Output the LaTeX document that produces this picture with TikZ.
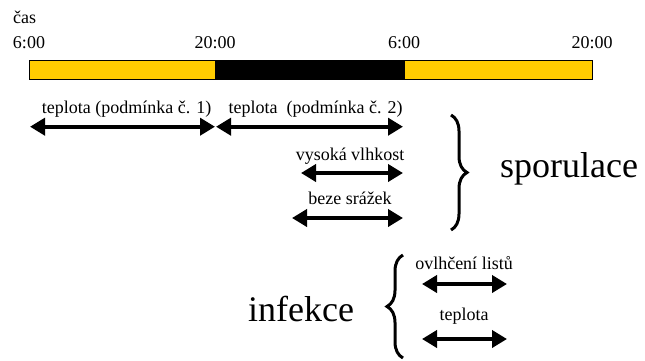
\documentclass[tikz,border=0pt]{standalone}
\usepackage{fontspec}
\setmainfont{Liberation Serif}
\usetikzlibrary{arrows.meta,decorations.pathreplacing}
\definecolor{den}{HTML}{FFCC00}
\tikzset{
  sipka/.style={line width=4pt,{Triangle[length=15pt,width=17pt]}-{Triangle[length=15pt,width=17pt]}},
  popis/.style={font=\fontsize{18}{20}\selectfont,anchor=base,inner sep=0pt},
  nadpis/.style={font=\fontsize{36}{40}\selectfont,anchor=base west,inner sep=0pt},
  zavorka/.style={line width=3pt,decorate,decoration={brace,amplitude=16pt}}
}
\begin{document}
\begin{tikzpicture}[x=1pt,y=-1pt]
            \useasboundingbox (0,0) rectangle (645,360);
            % casova osa
            \node[popis,anchor=base west] (cas) at (13,23) {čas};
            \node[popis] (t1) at (29,48) {6:00};
            \node[popis] (t2) at (215,48) {20:00};
            \node[popis] (t3) at (404,48) {6:00};
            \node[popis] (t4) at (592,48) {20:00};
            \draw[fill=den,line width=0.8pt] (29,60.7) rectangle (215,79.3);
            \draw[fill=black,line width=0.8pt] (215,60.7) rectangle (404,79.3);
            \draw[fill=den,line width=0.8pt] (404,60.7) rectangle (592,79.3);
            % sporulace
            \node[popis] (p1) at (126.5,113) {teplota (podmínka č. 1)};
            \node[popis] (p2) at (315.5,113) {teplota\ \ (podmínka č. 2)};
            \node[popis] (p3) at (350,160) {vysoká vlhkost};
            \node[popis] (p4) at (350,204) {beze srážek};
            \coordinate (a1) at (30,126.7);
            \coordinate (b1) at (215,126.7);
            \coordinate (a2) at (216,126.7);
            \coordinate (b2) at (403,126.7);
            \coordinate (a3) at (301,173);
            \coordinate (b3) at (403,173);
            \coordinate (a4) at (292,218);
            \coordinate (b4) at (403,218);
            \draw[sipka] (a1) -- (b1);
            \draw[sipka] (a2) -- (b2);
            \draw[sipka] (a3) -- (b3);
            \draw[sipka] (a4) -- (b4);
            \coordinate (z1) at (451,115);
            \coordinate (z2) at (451,230);
            \draw[zavorka] (z1) -- (z2);
            \node[nadpis] (spor) at (500,177) {sporulace};
            % infekce
            \node[nadpis] (inf) at (248,321) {infekce};
            \coordinate (z3) at (403,358);
            \coordinate (z4) at (403,255);
            \draw[zavorka] (z3) -- (z4);
            \node[popis] (p5) at (464,269) {ovlhčení listů};
            \node[popis] (p6) at (464,320) {teplota};
            \coordinate (a5) at (422,284);
            \coordinate (b5) at (507,284);
            \coordinate (a6) at (422,339);
            \coordinate (b6) at (507,339);
            \draw[sipka] (a5) -- (b5);
            \draw[sipka] (a6) -- (b6);
        \end{tikzpicture}
\end{document}
